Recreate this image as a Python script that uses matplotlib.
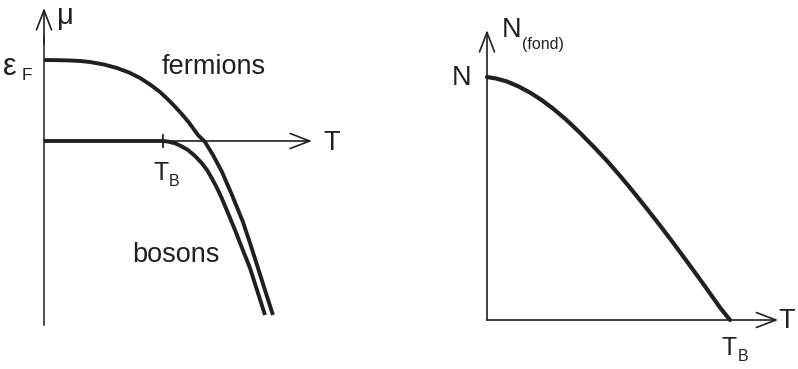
import matplotlib
matplotlib.use("Agg")
import matplotlib.pyplot as plt

plt.rcParams['font.family'] = ['Liberation Sans', 'DejaVu Sans']

# ---- data (T in units of T_B, mu in units of eps_F, N_fond in units of N) ----
fermion_T = [0.0, 0.109, 0.218, 0.303, 0.387, 0.504, 0.613, 0.714, 0.807, 0.891,
             0.975, 1.059, 1.143, 1.218, 1.294, 1.353, 1.420, 1.496, 1.580, 1.672,
             1.731, 1.790, 1.857, 1.924]
fermion_mu = [1.0, 0.998, 0.994, 0.988, 0.975, 0.944, 0.901, 0.846, 0.778, 0.698,
              0.605, 0.488, 0.358, 0.228, 0.074, -0.012, -0.173, -0.383, -0.667, -1.0,
              -1.259, -1.531, -1.840, -2.148]
boson_T = [0.0, 1.0, 1.042, 1.101, 1.151, 1.210, 1.269, 1.325, 1.370, 1.409,
           1.454, 1.493, 1.546, 1.605, 1.664, 1.731, 1.790, 1.857]
boson_mu = [0.0, 0.0, -0.007, -0.028, -0.062, -0.111, -0.185, -0.272, -0.358, -0.457,
            -0.580, -0.704, -0.889, -1.099, -1.321, -1.568, -1.840, -2.148]
cond_T = [0.0, 0.037, 0.081, 0.128, 0.177, 0.222, 0.272, 0.325, 0.383, 0.436,
          0.493, 0.547, 0.601, 0.654, 0.712, 0.765, 0.822, 0.868, 0.918, 0.959, 1.0]
cond_N = [1.0, 0.994, 0.982, 0.962, 0.936, 0.907, 0.870, 0.825, 0.770, 0.716,
          0.656, 0.594, 0.529, 0.463, 0.389, 0.319, 0.242, 0.179, 0.109, 0.051, 0.0]

INK = '#231f20'
W, H = 798, 369
fig = plt.figure(figsize=(W / 100, H / 100), dpi=100)

# left panel
axL = fig.add_axes([0, 0, 400 / W, 1])
axL.set_xlim(-0.3697, 2.9916)
axL.set_ylim(-2.8148, 1.7407)
axL.axis('off')

# right panel
axR = fig.add_axes([400 / W, 0, 398 / W, 1])
axR.set_xlim(-0.358, 1.2798)
axR.set_ylim(-0.2016, 1.3169)
axR.axis('off')

def arrow(ax, start, end):
    ax.annotate('', xy=end, xytext=start,
                arrowprops=dict(arrowstyle='->,head_length=0.7,head_width=0.27',
                                mutation_scale=20, lw=1.2, color=INK,
                                shrinkA=0, shrinkB=0))

# axes of left panel
axL.plot([0, 0], [-2.272, 1.3], color=INK, lw=1.1)
arrow(axL, (0, 1.2), (0, 1.642))
arrow(axL, (0, 0), (2.252, 0))
axL.plot([1.0, 1.0], [-0.074, 0.074], color=INK, lw=1.3)

line_kw = dict(color=INK, solid_joinstyle='round', solid_capstyle='butt')
axL.plot(fermion_T, fermion_mu, lw=2.8, **line_kw)
axL.plot(boson_T, boson_mu, lw=2.8, **line_kw)

big = 19.5
axL.text(0.109, 1.444, 'μ', fontsize=21, color=INK, va='baseline', ha='left')
axL.text(-0.345, 0.815, 'ε', fontsize=22, color=INK, va='baseline', ha='left')
axL.text(-0.19, 0.753, 'F', fontsize=12.5, color=INK, va='baseline', ha='left')
axL.text(0.992, 0.827, 'fermions', fontsize=big, color=INK, va='baseline', ha='left')
axL.text(0.739, -1.494, 'bosons', fontsize=big, color=INK, va='baseline', ha='left')
axL.text(2.345, -0.111, 'T', fontsize=big, color=INK, va='baseline', ha='left')
axL.text(0.916, -0.481, 'T', fontsize=18, color=INK, va='baseline', ha='left')
axL.text(1.05, -0.556, 'B', fontsize=11.5, color=INK, va='baseline', ha='left')

# axes of right panel
arrow(axR, (0, 0), (0, 1.193))
arrow(axR, (0, 0), (1.198, 0))
axR.plot(cond_T, cond_N, lw=3.0, color=INK, solid_joinstyle='round',
         solid_capstyle='round')

axR.text(0.062, 1.165, 'N', fontsize=big, color=INK, va='baseline', ha='left')
axR.text(0.144, 1.115, '(fond)', fontsize=11.5, color=INK, va='baseline', ha='left')
axR.text(-0.066, 0.967, 'N', fontsize=big, color=INK, va='baseline', ha='right')
axR.text(1.201, -0.033, 'T', fontsize=big, color=INK, va='baseline', ha='left')
axR.text(0.967, -0.144, 'T', fontsize=18, color=INK, va='baseline', ha='left')
axR.text(1.033, -0.169, 'B', fontsize=11.5, color=INK, va='baseline', ha='left')

fig.savefig('out.png', dpi=100)
